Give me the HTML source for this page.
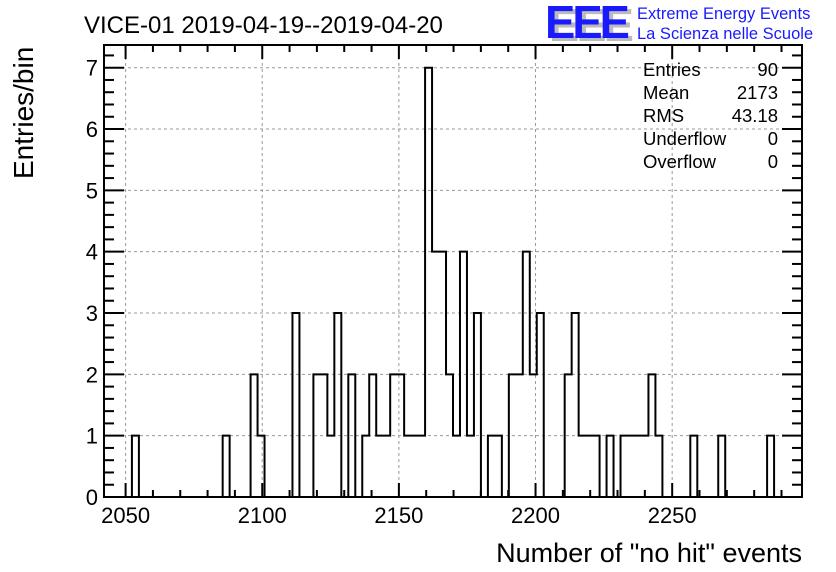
<!DOCTYPE html>
<html><head><meta charset="utf-8"><style>
html,body{margin:0;padding:0;background:#fff;}
svg{display:block;font-family:"Liberation Sans",Arial,sans-serif;}
</style></head><body>
<svg id="chart" width="836" height="572" viewBox="0 0 836 572" xmlns="http://www.w3.org/2000/svg">
<text x="84" y="33" font-size="24" fill="#000">VICE-01 2019-04-19--2019-04-20</text>
<g>
<text x="549" y="41" font-size="46" font-weight="bold" fill="#bbb" letter-spacing="-3" textLength="82" lengthAdjust="spacingAndGlyphs">EEE</text>
<text x="545" y="38" font-size="46" font-weight="bold" fill="#1a1aff" letter-spacing="-3" textLength="82" lengthAdjust="spacingAndGlyphs">EEE</text>
<text x="637" y="19" font-size="16.5" fill="#1a1aff">Extreme Energy Events</text>
<text x="637" y="39" font-size="16.5" fill="#1a1aff">La Scienza nelle Scuole</text>
</g>
<text transform="translate(33,179) rotate(-90)" font-size="28" fill="#000">Entries/bin</text>
<text x="802" y="562" font-size="27" text-anchor="end" fill="#000">Number of "no hit" events</text>
<g id="grid"></g>
<g id="ticks"></g>
<path id="hist" fill="none" stroke="#000" stroke-width="2"></path>
<rect x="104" y="45" width="698" height="452" fill="none" stroke="#000" stroke-width="2"/>
<g font-size="18.5" fill="#000">
<text x="643" y="76">Entries</text><text x="778" y="76" text-anchor="end">90</text>
<text x="643" y="99">Mean</text><text x="778" y="99" text-anchor="end">2173</text>
<text x="643" y="122">RMS</text><text x="778" y="122" text-anchor="end">43.18</text>
<text x="643" y="145">Underflow</text><text x="778" y="145" text-anchor="end">0</text>
<text x="643" y="168">Overflow</text><text x="778" y="168" text-anchor="end">0</text>
</g>
</svg>
<script>
const binMin = 2042.1;
const binMax = 2297.5;
const nBins = 100;
const binIndex = [4,17,21,22,27,30,31,32,33,35,37,38,39,40,41,42,43,44,45,46,47,48,49,50,51,52,53,55,56,58,59,60,61,62,66,67,68,69,70,72,74,75,76,77,78,79,84,88,95];
const binCount = [1,1,2,1,3,2,2,1,3,2,1,2,1,1,2,2,1,1,1,7,4,4,2,1,4,1,3,1,1,2,2,4,2,3,2,3,1,1,1,1,1,1,1,1,2,1,1,1,1];
const xTicks = [2050,2100,2150,2200,2250];
const yTicks = [0,1,2,3,4,5,6,7];
const X0=104,X1=802,Y0=497,Y1=45,ymax=7.37;
const xs=v=>X0+(v-binMin)/(binMax-binMin)*(X1-X0);
const ys=v=>Y0-v/ymax*(Y0-Y1);
const NS="http://www.w3.org/2000/svg";
function ln(g,x1,y1,x2,y2,attrs){const l=document.createElementNS(NS,'line');l.setAttribute('x1',x1);l.setAttribute('y1',y1);l.setAttribute('x2',x2);l.setAttribute('y2',y2);for(const k in attrs)l.setAttribute(k,attrs[k]);g.appendChild(l);return l;}
const grid=document.getElementById('grid'),ticks=document.getElementById('ticks'),svg=document.getElementById('chart');
const gA={stroke:'#999','stroke-width':1,'stroke-dasharray':'3,3'},tA={stroke:'#000','stroke-width':2};
xTicks.forEach(v=>{const x=xs(v);const g=ln(grid,x,Y1,x,Y0,gA);
 const t=document.createElementNS(NS,'text');t.setAttribute('x',x);t.setAttribute('y',523);t.setAttribute('font-size','22');t.setAttribute('text-anchor','middle');t.textContent=v;
 
 
 svg.appendChild(t);});
for(let v=2050;v<=2290;v+=10){const x=xs(v);const L=(v%50===0)?14:7;ln(ticks,x,Y0,x,Y0-L,tA);ln(ticks,x,Y1,x,Y1+L,tA);}
yTicks.forEach(v=>{const y=ys(v);if(v>0){const g=ln(grid,X0,y,X1,y,gA);}
 const t=document.createElementNS(NS,'text');t.setAttribute('x',98);t.setAttribute('y',y+8);t.setAttribute('font-size','22');t.setAttribute('text-anchor','end');t.textContent=v;
 
 
 svg.appendChild(t);});
for(let i=0;i<=36;i++){const v=i*0.2;if(v>ymax)break;const y=ys(v);const L=(i%5===0)?20:10;ln(ticks,X0,y,X0+L,y,tA);ln(ticks,X1,y,X1-L,y,tA);}
const counts=new Array(nBins).fill(0);binIndex.forEach((b,i)=>counts[b]=binCount[i]);
const bw=(binMax-binMin)/nBins;let d='M'+xs(binMin)+','+ys(0);
for(let i=0;i<nBins;i++){const a=xs(binMin+i*bw),b=xs(binMin+(i+1)*bw),y=ys(counts[i]);d+=' L'+a+','+y+' L'+b+','+y;}
d+=' L'+xs(binMax)+','+ys(0);
document.getElementById('hist').setAttribute('d',d);
</script>
</body></html>
